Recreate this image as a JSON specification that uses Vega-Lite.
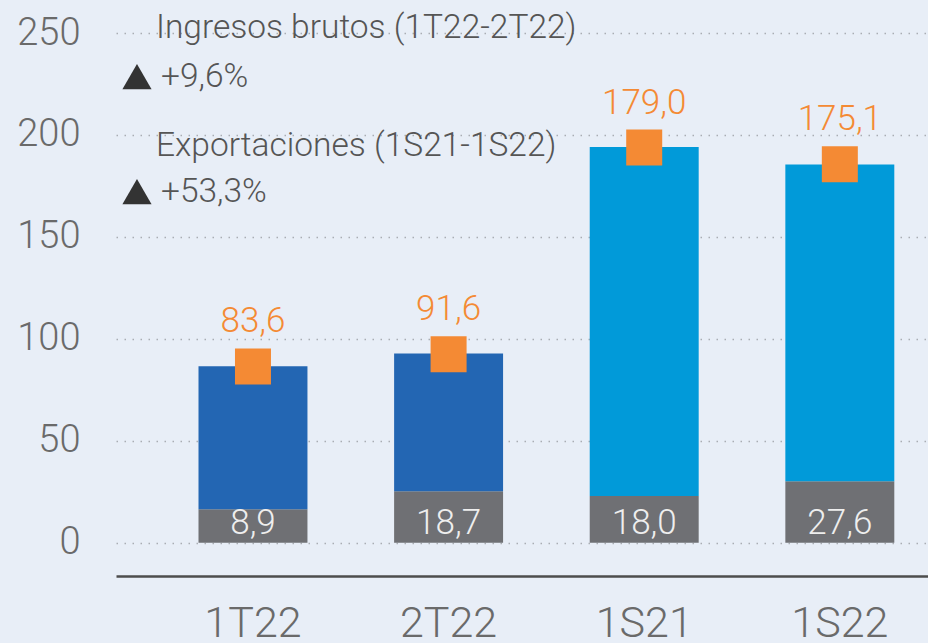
{
  "$schema": "https://vega.github.io/schema/vega-lite/v6.json",
  "width": 812,
  "height": 543,
  "autosize": {"type": "none"},
  "padding": {"left": 116, "top": 33, "right": 0, "bottom": 67},
  "background": "#e8eef7",
  "config": {
    "view": {"stroke": null},
    "font": "Roboto",
    "axisY": {
      "domain": false,
      "ticks": false,
      "labelFontSize": 38,
      "labelFontWeight": 300,
      "labelColor": "#6a6a6a",
      "labelPadding": 36,
      "grid": true,
      "gridColor": "#a9adb3",
      "gridDash": [1.5, 6.5],
      "gridWidth": 1.3
    }
  },
  "datasets": {
    "barras": [
      {"periodo": "1T22", "serie": "base", "inicio": 0, "fin": 16.4, "etiqueta": "8,9"},
      {"periodo": "1T22", "serie": "trimestral", "inicio": 16.4, "fin": 86.6, "etiqueta": ""},
      {"periodo": "2T22", "serie": "base", "inicio": 0, "fin": 25.3, "etiqueta": "18,7"},
      {"periodo": "2T22", "serie": "trimestral", "inicio": 25.3, "fin": 92.8, "etiqueta": ""},
      {"periodo": "1S21", "serie": "base", "inicio": 0, "fin": 22.9, "etiqueta": "18,0"},
      {"periodo": "1S21", "serie": "semestral", "inicio": 22.9, "fin": 194.1, "etiqueta": ""},
      {"periodo": "1S22", "serie": "base", "inicio": 0, "fin": 30.2, "etiqueta": "27,6"},
      {"periodo": "1S22", "serie": "semestral", "inicio": 30.2, "fin": 185.5, "etiqueta": ""}
    ],
    "totales": [
      {"periodo": "1T22", "valor": 86.5, "etiqueta": "83,6"},
      {"periodo": "2T22", "valor": 92.5, "etiqueta": "91,6"},
      {"periodo": "1S21", "valor": 193.8, "etiqueta": "179,0"},
      {"periodo": "1S22", "valor": 185.6, "etiqueta": "175,1"}
    ],
    "titulos": [
      {"periodo": "1T22", "y": 252.3, "texto": "Ingresos brutos (1T22-2T22)"},
      {"periodo": "1T22", "y": 194.5, "texto": "Exportaciones (1S21-1S22)"}
    ],
    "cambios": [
      {"periodo": "1T22", "y": 228.6, "texto": "+9,6%"},
      {"periodo": "1T22", "y": 172.2, "texto": "+53,3%"}
    ]
  },
  "encoding": {
    "x": {
      "field": "periodo",
      "type": "nominal",
      "sort": ["1T22", "2T22", "1S21", "1S22"],
      "scale": {"paddingInner": 0.443, "paddingOuter": 0.297, "align": 0.71},
      "axis": {
        "title": null,
        "labelAngle": 0,
        "labelFontSize": 43,
        "labelFontWeight": 300,
        "labelColor": "#6a6a6a",
        "labelPadding": 26,
        "ticks": false,
        "domain": true,
        "domainColor": "#4d4d4d",
        "domainWidth": 2.5,
        "grid": false
      }
    }
  },
  "layer": [
    {
      "data": {"name": "barras"},
      "mark": {"type": "bar"},
      "encoding": {
        "y": {
          "field": "inicio",
          "type": "quantitative",
          "title": null,
          "scale": {"domain": [-16.3, 250], "nice": false, "zero": false},
          "axis": {"values": [0, 50, 100, 150, 200, 250]}
        },
        "y2": {"field": "fin"},
        "color": {
          "field": "serie",
          "type": "nominal",
          "scale": {"domain": ["base", "trimestral", "semestral"], "range": ["#6f7074", "#2366b3", "#019ad9"]},
          "legend": null
        }
      }
    },
    {
      "data": {"name": "barras"},
      "mark": {"type": "text", "baseline": "middle", "align": "center", "fontSize": 35, "fontWeight": 300, "color": "#eeeeee", "dy": -20},
      "encoding": {
        "y": {"datum": 0, "type": "quantitative", "title": null},
        "text": {"field": "etiqueta"}
      }
    },
    {
      "data": {"name": "totales"},
      "mark": {"type": "point", "shape": "square", "filled": true, "size": 1296, "opacity": 1, "color": "#f48a34"},
      "encoding": {
        "y": {"field": "valor", "type": "quantitative", "title": null}
      }
    },
    {
      "data": {"name": "totales"},
      "mark": {"type": "text", "baseline": "middle", "align": "center", "fontSize": 35, "fontWeight": 300, "color": "#f48a34", "dy": -45},
      "encoding": {
        "y": {"field": "valor", "type": "quantitative", "title": null},
        "text": {"field": "etiqueta"}
      }
    },
    {
      "data": {"name": "titulos"},
      "mark": {"type": "text", "baseline": "middle", "align": "left", "fontSize": 33.5, "fontWeight": 300, "color": "#555555", "dx": -97},
      "encoding": {
        "y": {"field": "y", "type": "quantitative", "title": null},
        "text": {"field": "texto"}
      }
    },
    {
      "data": {"name": "cambios"},
      "mark": {"type": "text", "baseline": "middle", "align": "left", "fontSize": 33.5, "fontWeight": 300, "color": "#555555", "dx": -92},
      "encoding": {
        "y": {"field": "y", "type": "quantitative", "title": null},
        "text": {"field": "texto"}
      }
    },
    {
      "data": {"name": "cambios"},
      "mark": {"type": "point", "shape": "triangle-up", "filled": true, "size": 850, "opacity": 1, "color": "#333333", "xOffset": -116},
      "encoding": {
        "y": {"field": "y", "type": "quantitative", "title": null}
      }
    }
  ]
}
